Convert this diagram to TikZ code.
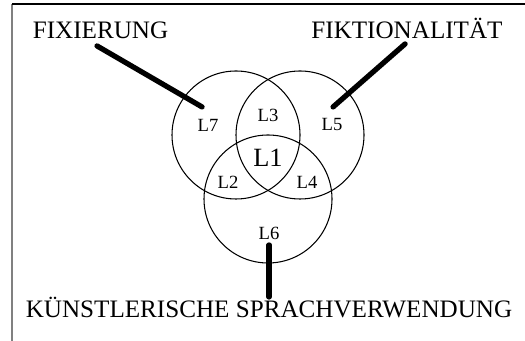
\documentclass[tikz,border=0pt]{standalone}
\usepackage{fontspec}
\setmainfont{Liberation Serif}
\tikzset{
  titre/.style={anchor=base, inner sep=0pt, font=\fontsize{14.3}{16}\selectfont},
  zone/.style={inner sep=0pt, font=\fontsize{10.6}{12}\selectfont},
  ensemble/.style={line width=0.6pt},
  renvoi/.style={line width=3pt, line cap=round}
}
\begin{document}
\begin{tikzpicture}[scale=0.02]
  \useasboundingbox (0,0) rectangle (525,341);
  % Cadre
  \draw[gray, line width=0.6pt] (12,0) -- (12,337);
  \draw[line width=0.6pt] (12,337) -- (525,337);

  % Les trois ensembles
  \draw[ensemble] (236,206) circle (64);
  \draw[ensemble] (300,206) circle (64);
  \draw[ensemble] (268,142) circle (64);

  % Zones
  \node[zone] (l7) at (208,216) {L7};
  \node[zone] (l3) at (268,226) {L3};
  \node[zone] (l5) at (332,216) {L5};
  \node[zone, font=\fontsize{15}{17}\selectfont] (l1) at (268,183) {L1};
  \node[zone] (l2) at (228,159) {L2};
  \node[zone] (l4) at (307,159) {L4};
  \node[zone] (l6) at (269,108) {L6};

  % Titres
  \node[titre] (fix) at (100.5,302) {FIXIERUNG};
  \node[titre] (fik) at (407,302) {FIKTIONALITÄT};
  \node[titre] (kuen) at (269,23) {KÜNSTLERISCHE SPRACHVERWENDUNG};

  % Renvois
  \coordinate (fixA) at (97,295);
  \coordinate (fixB) at (202,234);
  \coordinate (fikA) at (405,297);
  \coordinate (fikB) at (333,234);
  \coordinate (kuenA) at (269,96);
  \coordinate (kuenB) at (269,44);
  \draw[renvoi] (fixA) -- (fixB);
  \draw[renvoi] (fikA) -- (fikB);
  \draw[renvoi] (kuenA) -- (kuenB);
\end{tikzpicture}
\end{document}
